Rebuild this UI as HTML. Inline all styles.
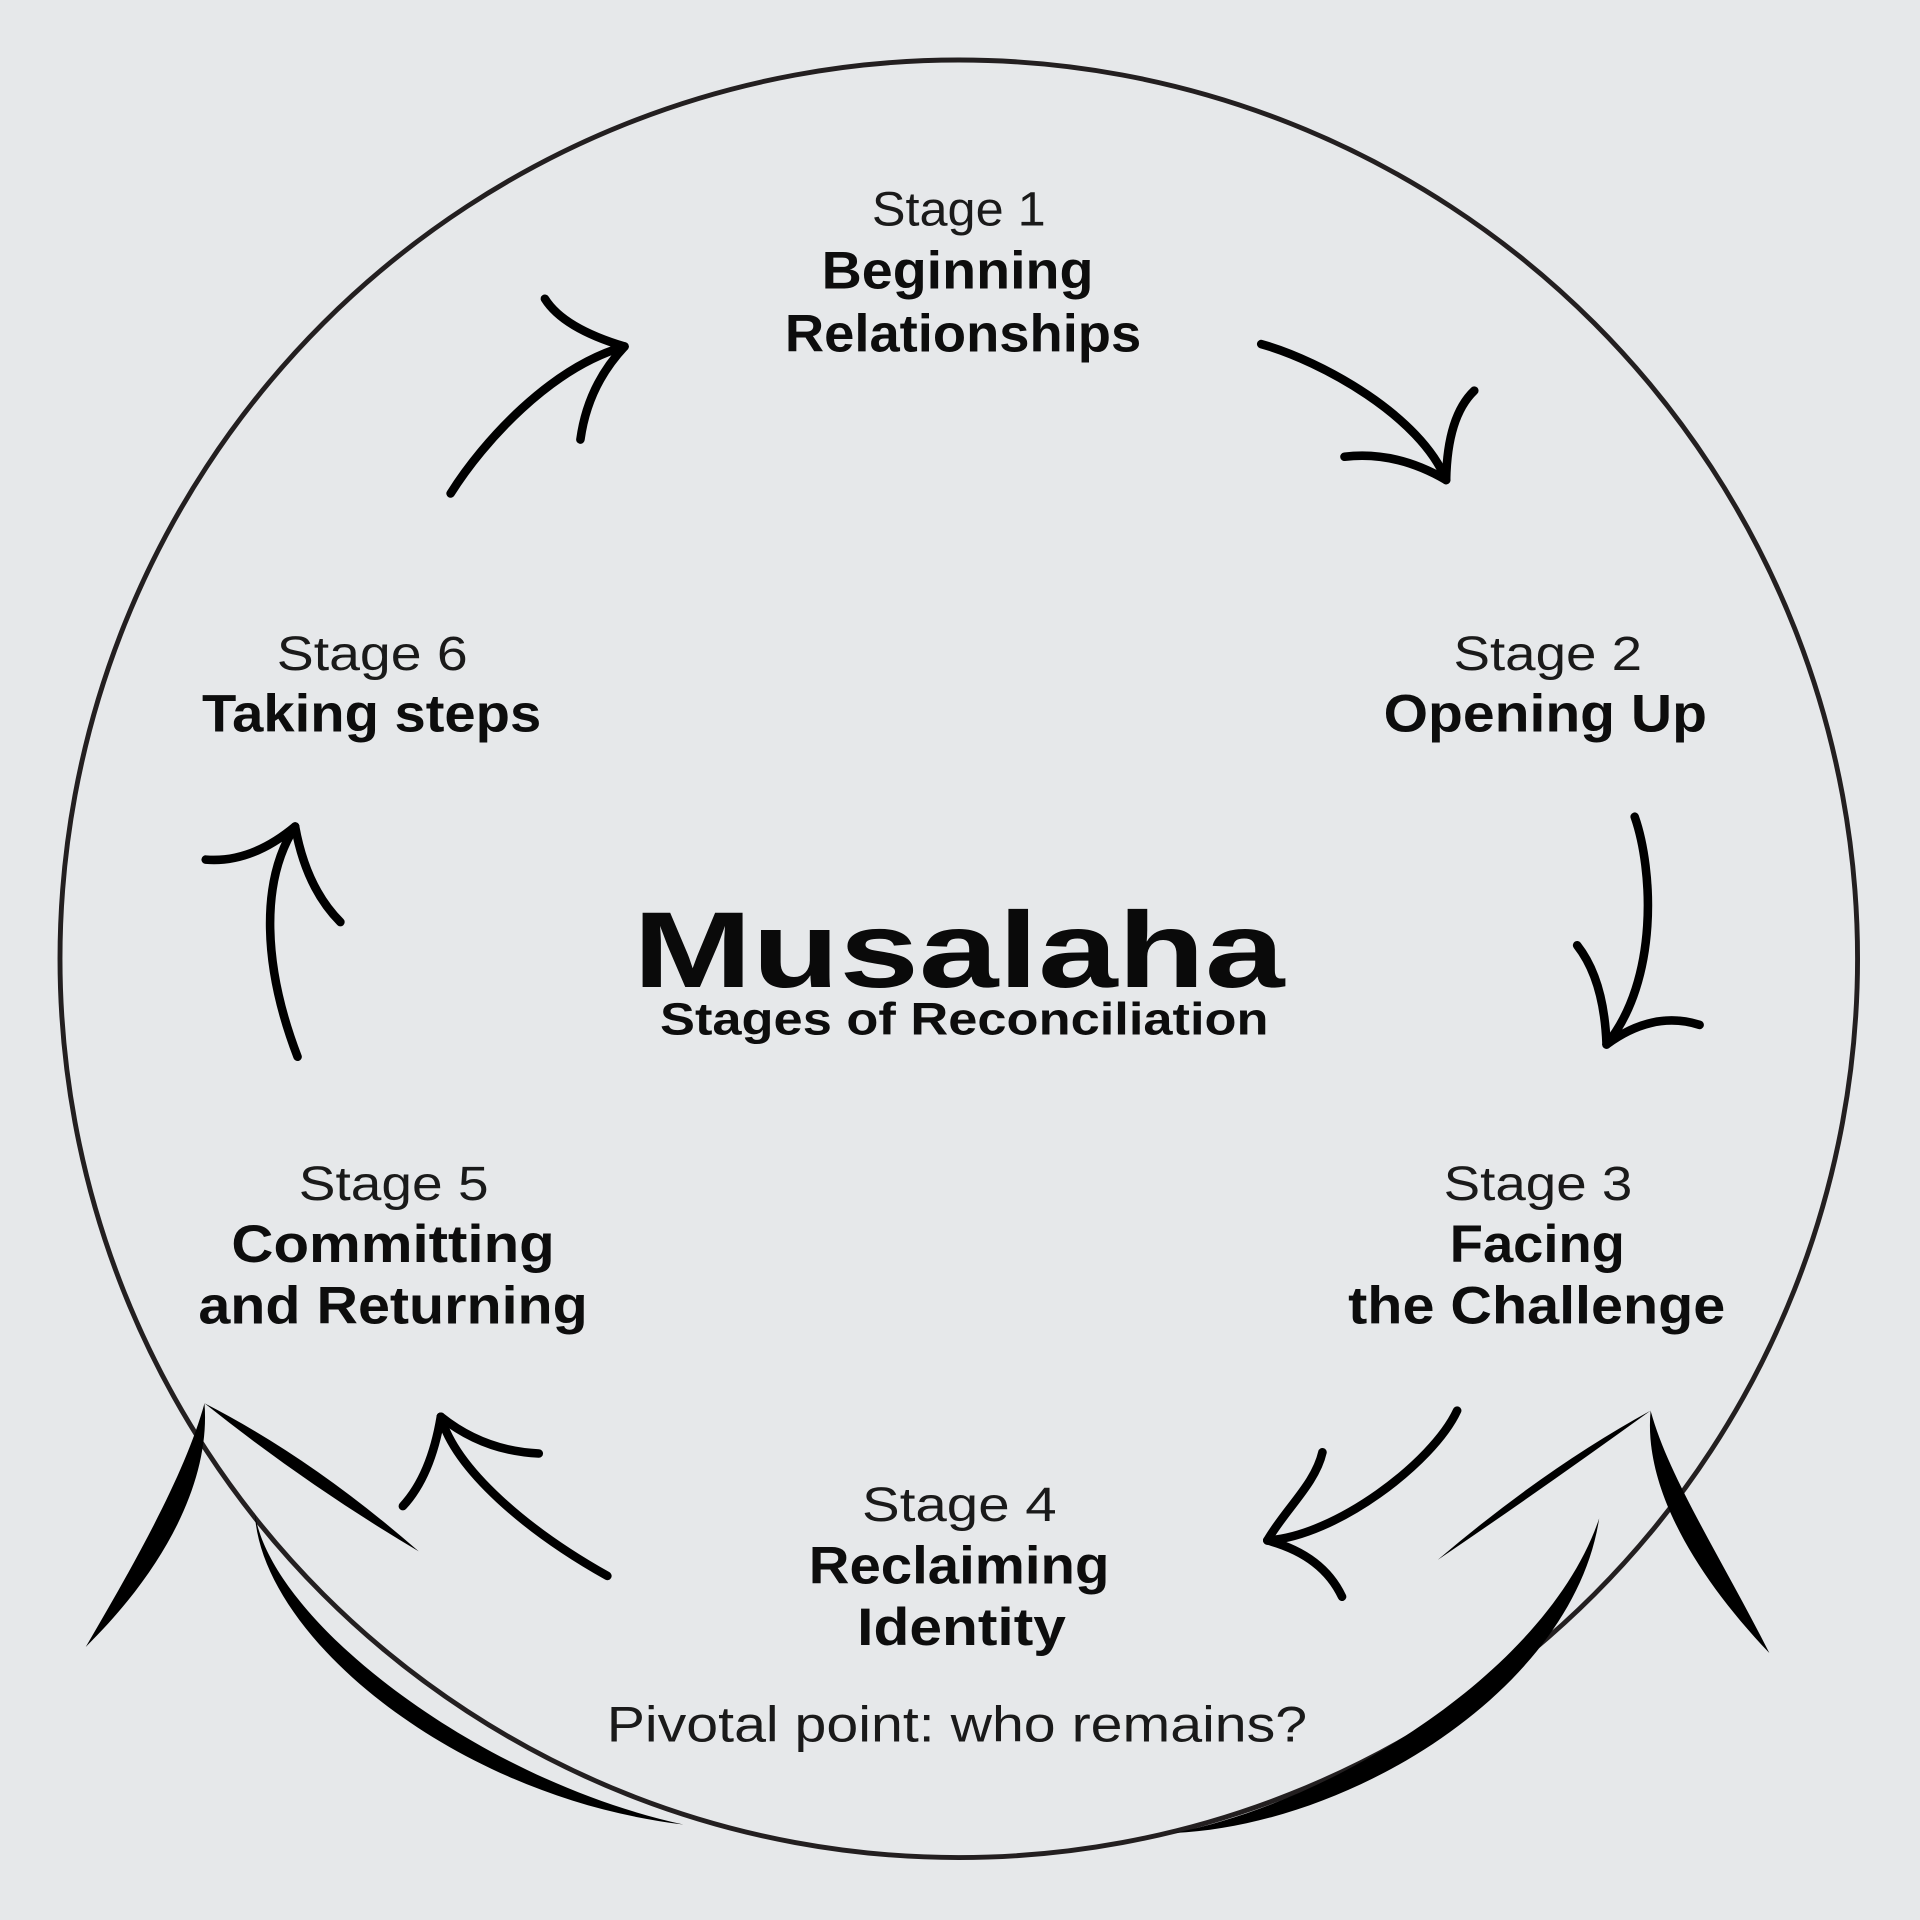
<!DOCTYPE html>
<html>
<head>
<meta charset="utf-8">
<style>
  html,body{margin:0;padding:0;background:#e6e8ea;}
  svg{display:block;}
  .st{font-family:"Liberation Sans",sans-serif;font-size:39px;font-weight:normal;fill:#1a1a1a;}
  .bd{font-family:"Liberation Sans",sans-serif;font-size:43px;font-weight:bold;fill:#0d0d0d;}
  .pv{font-family:"Liberation Sans",sans-serif;font-size:41px;font-weight:normal;fill:#1a1a1a;}
  .tt{font-family:"Liberation Sans",sans-serif;font-size:88px;font-weight:bold;fill:#0a0a0a;}
  .sb{font-family:"Liberation Sans",sans-serif;font-size:37px;font-weight:bold;fill:#0d0d0d;}
  .ar{fill:none;stroke:#000;stroke-width:7;stroke-linecap:round;stroke-linejoin:round;}
</style>
</head>
<body>
<svg width="1920" height="1920" viewBox="0 0 1568 1568" xmlns="http://www.w3.org/2000/svg">
  <rect x="0" y="0" width="1568" height="1568" fill="#e6e8ea"/>
  <!-- main circle -->
  <circle cx="783" cy="783" r="734" fill="none" stroke="#231f20" stroke-width="4"/>

  <!-- Arrow A: 6 -> 1 -->
  <path class="ar" d="M368,403 C395,360 450,300 510,283"/>
  <path class="ar" d="M445,244 Q460,268 510,283"/>
  <path class="ar" d="M510,283 Q480,315 474,359"/>

  <!-- Arrow B: 1 -> 2 -->
  <path class="ar" d="M1030,281 C1080,295 1160,340 1181,392"/>
  <path class="ar" d="M1204,319 Q1182,340 1181,392"/>
  <path class="ar" d="M1098,373 Q1140,368 1181,392"/>

  <!-- Arrow C: 2 -> 3 -->
  <path class="ar" d="M1335,667 C1350,710 1355,800 1312,853"/>
  <path class="ar" d="M1288,772 Q1310,800 1312,853"/>
  <path class="ar" d="M1388,837 Q1350,825 1312,853"/>

  <!-- Arrow D: 3 -> 4 -->
  <path class="ar" d="M1190,1152 C1170,1195 1090,1255 1035,1258"/>
  <path class="ar" d="M1080,1186 C1074,1212 1050,1232 1035,1258"/>
  <path class="ar" d="M1035,1258 Q1080,1270 1096,1304"/>

  <!-- Arrow E: 4 -> 5 -->
  <path class="ar" d="M496,1287 C430,1250 372,1200 360,1157"/>
  <path class="ar" d="M329,1230 Q352,1205 360,1157"/>
  <path class="ar" d="M360,1157 Q395,1185 440,1187"/>

  <!-- Arrow F: 5 -> 6 -->
  <path class="ar" d="M243,863 C215,790 212,720 241,675"/>
  <path class="ar" d="M168,702 Q205,705 241,675"/>
  <path class="ar" d="M241,675 Q250,725 278,753"/>

  <!-- Left mountain -->
  <path fill="#000" d="M167,1146 C152,1201 114,1270 70,1345 C135,1281 172,1209 167,1146 Z"/>
  <path fill="#000" d="M167,1146 Q255,1191 342,1267 Q251,1213 167,1146 Z"/>
  <path fill="#000" d="M208,1235 C213,1337 372,1468 558,1490 C388,1453 220,1322 208,1235 Z"/>

  <!-- Right mountain -->
  <path fill="#000" d="M1348,1152 C1362,1205 1406,1273 1445,1350 C1385,1287 1342,1215 1348,1152 Z"/>
  <path fill="#000" d="M1348,1152 Q1262,1199 1174,1274 Q1258,1217 1348,1152 Z"/>
  <path fill="#000" d="M1306,1240 C1285,1378 1106,1490 959,1497 C1094,1470 1265,1362 1306,1240 Z"/>

  <!-- Stage 1 -->
  <text class="st" x="712" y="184" textLength="142" lengthAdjust="spacingAndGlyphs">Stage 1</text>
  <text class="bd" x="671" y="235.5" textLength="222" lengthAdjust="spacingAndGlyphs">Beginning</text>
  <text class="bd" x="641" y="287" textLength="291" lengthAdjust="spacingAndGlyphs">Relationships</text>

  <!-- Stage 2 -->
  <text class="st" x="1187" y="547" textLength="154" lengthAdjust="spacingAndGlyphs">Stage 2</text>
  <text class="bd" x="1130" y="597.5" textLength="264" lengthAdjust="spacingAndGlyphs">Opening Up</text>

  <!-- Stage 6 -->
  <text class="st" x="226" y="547" textLength="156" lengthAdjust="spacingAndGlyphs">Stage 6</text>
  <text class="bd" x="165" y="597.5" textLength="277" lengthAdjust="spacingAndGlyphs">Taking steps</text>

  <!-- Center title -->
  <text class="tt" x="517" y="806" textLength="532" lengthAdjust="spacingAndGlyphs">Musalaha</text>
  <text class="sb" x="539" y="845" textLength="497" lengthAdjust="spacingAndGlyphs">Stages of Reconciliation</text>

  <!-- Stage 5 -->
  <text class="st" x="244" y="980" textLength="155" lengthAdjust="spacingAndGlyphs">Stage 5</text>
  <text class="bd" x="189" y="1030.5" textLength="264" lengthAdjust="spacingAndGlyphs">Committing</text>
  <text class="bd" x="162" y="1081" textLength="318" lengthAdjust="spacingAndGlyphs">and Returning</text>

  <!-- Stage 3 -->
  <text class="st" x="1179" y="980" textLength="154" lengthAdjust="spacingAndGlyphs">Stage 3</text>
  <text class="bd" x="1184" y="1030.5" textLength="143" lengthAdjust="spacingAndGlyphs">Facing</text>
  <text class="bd" x="1101" y="1081" textLength="308" lengthAdjust="spacingAndGlyphs">the Challenge</text>

  <!-- Stage 4 -->
  <text class="st" x="704" y="1242" textLength="159" lengthAdjust="spacingAndGlyphs">Stage 4</text>
  <text class="bd" x="660.5" y="1293" textLength="245.5" lengthAdjust="spacingAndGlyphs">Reclaiming</text>
  <text class="bd" x="700" y="1343.4" textLength="170.5" lengthAdjust="spacingAndGlyphs">Identity</text>

  <!-- Pivotal -->
  <text class="pv" x="495.5" y="1422.4" textLength="572" lengthAdjust="spacingAndGlyphs">Pivotal point: who remains?</text>
</svg>
</body>
</html>
